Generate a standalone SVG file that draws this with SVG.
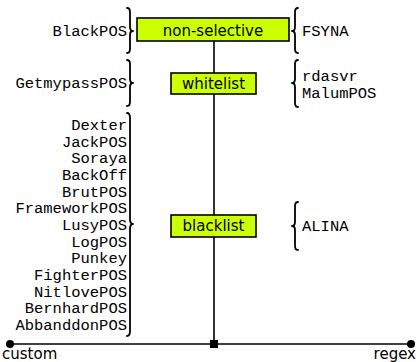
<svg xmlns="http://www.w3.org/2000/svg" width="418" height="362" viewBox="0 0 418 362">
  <style>
    .box { fill: #ccff00; stroke: #000; stroke-width: 1.6; }
    .blabel { font-family: "DejaVu Sans", sans-serif; font-size: 15px; fill: #000; text-anchor: middle; }
    .name { font-family: "Liberation Mono", "DejaVu Sans Mono", monospace; font-size: 15.5px; fill: #000; }
    .l { text-anchor: end; }
    .brace { fill: none; stroke: #000; stroke-width: 1.8; stroke-linecap: round; stroke-linejoin: round; }
    .axis { fill: none; stroke: #000; stroke-width: 1.6; }
    .axlabel { font-family: "DejaVu Sans", sans-serif; font-size: 15px; fill: #000; }
  </style>

  <!-- axis and spine -->
  <g id="connectors">
    <line class="axis" x1="10" y1="344" x2="411" y2="344"/>
    <line class="axis" x1="214" y1="41" x2="214" y2="344"/>
    <circle cx="10" cy="344" r="4" fill="#000"/>
    <circle cx="411" cy="344" r="4" fill="#000"/>
    <rect x="210" y="340" width="8" height="8" fill="#000"/>
  </g>

  <!-- axis end labels -->
  <text class="axlabel" x="2" y="358.5">custom</text>
  <text class="axlabel" x="416" y="358.5" text-anchor="end">regex</text>

  <!-- category boxes -->
  <g id="non-selective">
    <rect class="box" x="137" y="18" width="152" height="23"/>
    <text class="blabel" x="213" y="35.5">non-selective</text>
  </g>
  <g id="whitelist">
    <rect class="box" x="171" y="73" width="85" height="21"/>
    <text class="blabel" x="213.5" y="89">whitelist</text>
  </g>
  <g id="blacklist">
    <rect class="box" x="171" y="215" width="85" height="22"/>
    <text class="blabel" x="213.5" y="231">blacklist</text>
  </g>

  <!-- left families (closing braces) -->
  <g id="left-nonselective">
    <path class="brace" d="M127,8 Q130,8 130,12 L130,27 Q130,31 133,31 Q130,31 130,35 L130,49 Q130,53 127,53"/>
    <text class="name l" x="127" y="36">BlackPOS</text>
  </g>
  <g id="left-whitelist">
    <path class="brace" d="M127,60 Q130,60 130,64 L130,79 Q130,83 133,83 Q130,83 130,87 L130,102 Q130,106 127,106"/>
    <text class="name l" x="127" y="88">GetmypassPOS</text>
  </g>
  <g id="left-blacklist">
    <path class="brace" d="M127,113 Q130,113 130,118 L130,219 Q130,224 133,224 Q130,224 130,229 L130,331 Q130,336 127,336"/>
    <text class="name l" x="127" y="130">Dexter</text>
    <text class="name l" x="127" y="146.7">JackPOS</text>
    <text class="name l" x="127" y="163.3">Soraya</text>
    <text class="name l" x="127" y="180">BackOff</text>
    <text class="name l" x="127" y="196.7">BrutPOS</text>
    <text class="name l" x="127" y="213.3">FrameworkPOS</text>
    <text class="name l" x="127" y="230">LusyPOS</text>
    <text class="name l" x="127" y="246.7">LogPOS</text>
    <text class="name l" x="127" y="263.3">Punkey</text>
    <text class="name l" x="127" y="280">FighterPOS</text>
    <text class="name l" x="127" y="296.7">NitlovePOS</text>
    <text class="name l" x="127" y="313.3">BernhardPOS</text>
    <text class="name l" x="127" y="330">AbbanddonPOS</text>
  </g>

  <!-- right families (opening braces) -->
  <g id="right-nonselective">
    <path class="brace" d="M298,8 Q295,8 295,12 L295,27 Q295,31 292,31 Q295,31 295,35 L295,49 Q295,53 298,53"/>
    <text class="name" x="302" y="36">FSYNA</text>
  </g>
  <g id="right-whitelist">
    <path class="brace" d="M298,60 Q295,60 295,64 L295,79 Q295,83 292,83 Q295,83 295,87 L295,103 Q295,107 298,107"/>
    <text class="name" x="302" y="81">rdasvr</text>
    <text class="name" x="302" y="98">MalumPOS</text>
  </g>
  <g id="right-blacklist">
    <path class="brace" d="M298,202 Q295,202 295,206 L295,222 Q295,226 292,226 Q295,226 295,230 L295,246 Q295,250 298,250"/>
    <text class="name" x="302" y="231">ALINA</text>
  </g>
</svg>
